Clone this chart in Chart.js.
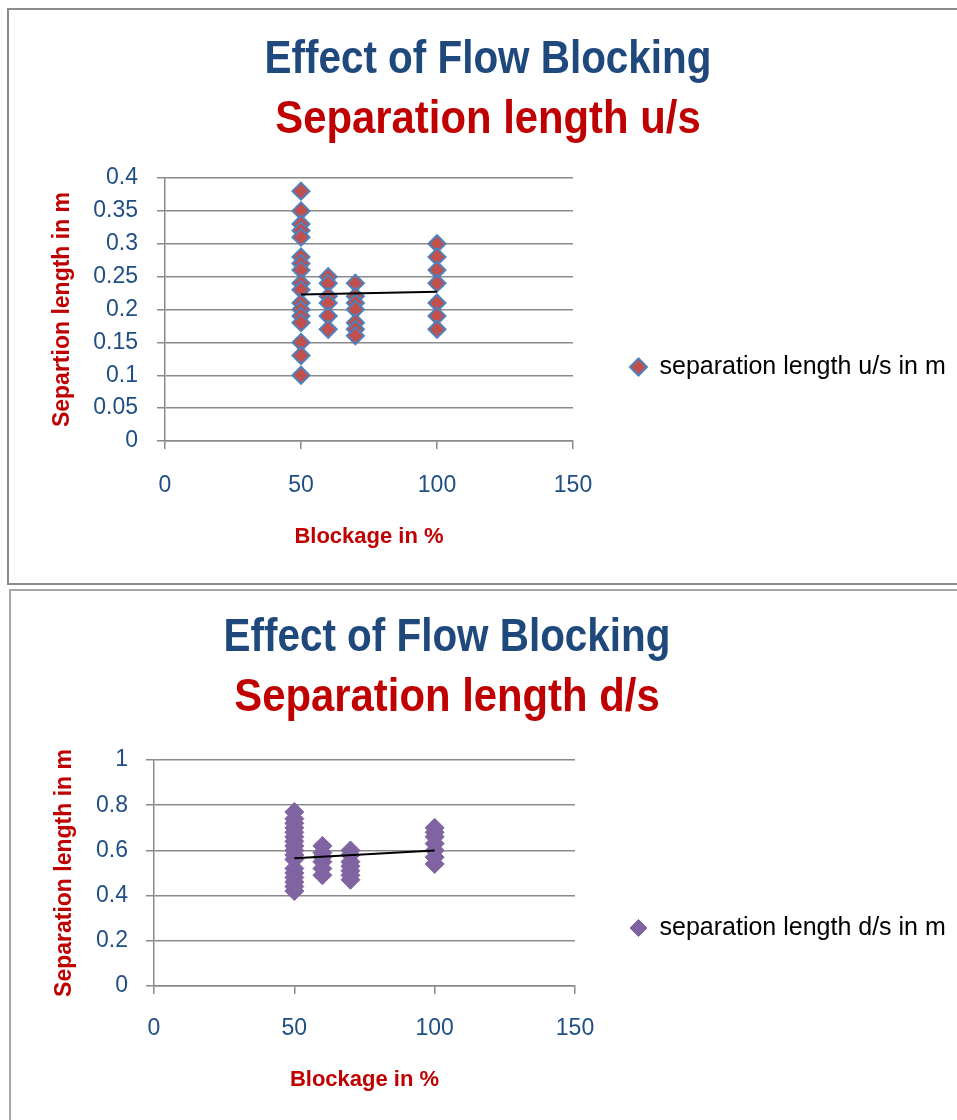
<!DOCTYPE html>
<html>
<head>
<meta charset="utf-8">
<script src="https://cdn.jsdelivr.net/npm/chart.js@4.4.1/dist/chart.umd.min.js"></script>
<style>
  html, body { margin: 0; padding: 0; background: #fff; overflow: hidden; width: 957px; height: 1120px; }
  .box { position: absolute; border: 2px solid #8c8c8c; background: #fff; overflow: hidden; width: 962px; }
  .box canvas { position: absolute; left: 0; top: 0; display: block; }
  .ttl { position: absolute; left: 0; text-align: center; white-space: nowrap;
         font: bold 47px "Liberation Sans", Arial, sans-serif; line-height: 59.5px; }
  .ttl div { transform-origin: 50% 50%; }
  .ttl .l1 { color: #1F497D; transform: scaleX(0.86); }
  .ttl .l2 { color: #C00000; transform: scaleX(0.89); }
</style>
</head>
<body>
<div class="box" style="left:7px; top:8px; height:573px;">
  <canvas id="usChart" width="962" height="573"></canvas>
  <div class="ttl" style="top:17px; width:958px;">
    <div class="l1">Effect of Flow Blocking</div>
    <div class="l2">Separation length u/s</div>
  </div>
</div>
<div class="box" style="left:9px; top:589px; height:540px; border-color:#a6a6a6;">
  <canvas id="dsChart" width="962" height="529"></canvas>
  <div class="ttl" style="top:14px; width:872px;">
    <div class="l1">Effect of Flow Blocking</div>
    <div class="l2">Separation length d/s</div>
  </div>
</div>
<script>
// blockage levels (%) tested
const blockage = [50, 60, 70, 100];

// upstream separation length (m) read per blockage level
const usAt50 = [0.38, 0.35, 0.33, 0.32, 0.31, 0.28, 0.27, 0.26, 0.24, 0.23, 0.21, 0.2, 0.19, 0.18, 0.15, 0.13, 0.1];
const usAt60 = [0.25, 0.24, 0.22, 0.21, 0.19, 0.17];
const usAt70 = [0.24, 0.22, 0.21, 0.2, 0.18, 0.17, 0.16];
const usAt100 = [0.3, 0.28, 0.26, 0.24, 0.21, 0.19, 0.17];

// downstream separation length (m)
const dsAt50 = [0.77, 0.74, 0.72, 0.7, 0.68, 0.66, 0.64, 0.62, 0.6, 0.58, 0.56, 0.52, 0.5, 0.48, 0.46, 0.44, 0.42];
const dsAt60 = [0.62, 0.59, 0.57, 0.55, 0.52, 0.49];
const dsAt70 = [0.6, 0.58, 0.55, 0.53, 0.51, 0.49, 0.47];
const dsAt100 = [0.7, 0.68, 0.66, 0.63, 0.6, 0.57, 0.54];

// trend line ends as drawn in the sheet
const trendX = [50, 100];
const usTrendY = [0.223, 0.227];
const dsTrendY = [0.565, 0.6];

const xTickLabels = ['0', '50', '100', '150'];
const usYTickLabels = ['0', '0.05', '0.1', '0.15', '0.2', '0.25', '0.3', '0.35', '0.4'];
const dsYTickLabels = ['0', '0.2', '0.4', '0.6', '0.8', '1'];

const SANS = '"Liberation Sans", Arial, sans-serif';
const TICK_COLOR = '#1F4E85';
const AXIS_RED = '#C00000';
const GRID = '#8a8a8a';

function toPoints(groups) {
  const pts = [];
  groups.forEach((vals, i) => vals.forEach(v => pts.push({ x: blockage[i], y: v })));
  return pts;
}

function trendPoints(ys) {
  return trendX.map((x, i) => ({ x: x, y: ys[i] }));
}

function makeChart(id, o) {
  return new Chart(document.getElementById(id), {
    type: 'scatter',
    data: {
      datasets: [
        {
          label: o.label,
          data: o.points,
          pointStyle: 'rectRot',
          pointRadius: o.radius,
          pointBackgroundColor: o.fill,
          pointBorderColor: o.stroke,
          pointBorderWidth: o.strokeWidth,
          order: 1
        },
        {
          label: 'trend',
          data: o.trend,
          showLine: true,
          borderColor: '#000',
          borderWidth: 2,
          pointRadius: 0,
          order: 0
        }
      ]
    },
    options: {
      responsive: false,
      animation: false,
      events: [],
      layout: { padding: { left: 0, top: o.padTop, right: 23, bottom: o.padBottom } },
      plugins: {
        legend: {
          position: 'right',
          maxWidth: 375,
          labels: {
            usePointStyle: true,
            pointStyleWidth: 17,
            boxHeight: 12,
            padding: o.legendPad,
            color: '#000',
            font: { family: SANS, size: 25 },
            filter: item => item.datasetIndex === 0
          }
        },
        tooltip: { enabled: false }
      },
      scales: {
        x: {
          type: 'linear',
          min: 0,
          max: 150,
          afterFit: s => { s.height = o.xAxisHeight; },
          ticks: {
            stepSize: 50,
            padding: o.xTickPad,
            color: TICK_COLOR,
            font: { family: SANS, size: 23 },
            callback: (v, i) => xTickLabels[i]
          },
          grid: { drawOnChartArea: false, drawTicks: true, tickLength: 8, color: GRID, lineWidth: 1.5 },
          border: { color: GRID, width: 1.5 },
          title: {
            display: true,
            text: 'Blockage in %',
            color: AXIS_RED,
            font: { family: SANS, size: 22, weight: 'bold' },
            padding: { top: 0, bottom: o.xTitlePad }
          }
        },
        y: {
          min: 0,
          max: o.yMax,
          afterFit: s => { s.width = o.yAxisWidth; },
          ticks: {
            stepSize: o.yStep,
            padding: o.yTickPad,
            color: TICK_COLOR,
            font: { family: SANS, size: 23 },
            callback: (v, i) => o.yLabels[i]
          },
          grid: { color: GRID, lineWidth: 1.5, tickLength: 8 },
          border: { color: GRID, width: 1.5 },
          title: {
            display: true,
            text: o.yTitle,
            color: AXIS_RED,
            font: { family: SANS, size: 23, weight: 'bold' },
            padding: { top: 40, bottom: 0 }
          }
        }
      }
    }
  });
}

makeChart('usChart', {
  label: 'separation length u/s in m',
  points: toPoints([usAt50, usAt60, usAt70, usAt100]),
  trend: trendPoints(usTrendY),
  radius: 8.5,
  fill: '#C0504D',
  stroke: '#4F81BD',
  strokeWidth: 2,
  legendPad: 57,
  padTop: 168,
  padBottom: 27,
  xAxisHeight: 115,
  xTickPad: 23,
  xTitlePad: 6,
  yAxisWidth: 156,
  yTickPad: 19,
  yMax: 0.4,
  yStep: 0.05,
  yLabels: usYTickLabels,
  yTitle: 'Separtion length in m'
});

makeChart('dsChart', {
  label: 'separation length d/s in m',
  points: toPoints([dsAt50, dsAt60, dsAt70, dsAt100]),
  trend: trendPoints(dsTrendY),
  radius: 9.5,
  fill: '#8064A2',
  stroke: '#8064A2',
  strokeWidth: 1,
  legendPad: 55,
  padTop: 169,
  padBottom: 24,
  xAxisHeight: 110,
  xTickPad: 21,
  xTitlePad: 2.5,
  yAxisWidth: 143,
  yTickPad: 18,
  yMax: 1,
  yStep: 0.2,
  yLabels: dsYTickLabels,
  yTitle: 'Separation length in m'
});
</script>
</body>
</html>
